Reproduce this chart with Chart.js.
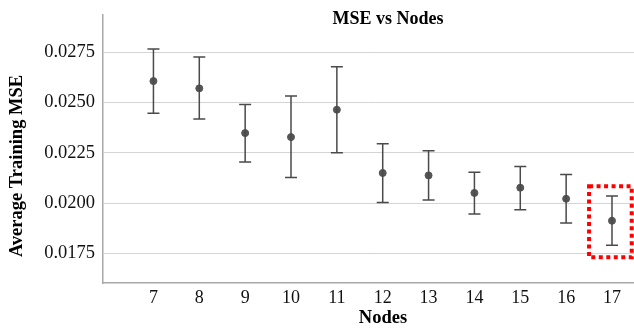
<!DOCTYPE html>
<html>
<head>
<meta charset="utf-8">
<script src="https://cdn.jsdelivr.net/npm/chart.js@4/dist/chart.umd.min.js"></script>
<style>
  html, body { margin: 0; padding: 0; background: #fff; }
  #wrap { width: 634px; height: 329px; position: relative; }
</style>
</head>
<body>
<div id="wrap"><canvas id="chartMse"></canvas></div>
<script>
// ———————————————————
//  Datos
// ———————————————————
const nodes = [7, 8, 9, 10, 11, 12, 13, 14, 15, 16, 17];
const mseMean = [0.02606, 0.0257, 0.02348, 0.02328, 0.02464, 0.0215, 0.02138, 0.02051, 0.02077, 0.02022, 0.01913];
const mseUpper = [0.02765, 0.02725, 0.0249, 0.02532, 0.02677, 0.02295, 0.0226, 0.02153, 0.02182, 0.02143, 0.02036];
const mseLower = [0.02446, 0.02418, 0.02204, 0.02128, 0.0225, 0.02004, 0.02016, 0.01946, 0.01968, 0.01902, 0.01791];
const yTicks = [0.0175, 0.0200, 0.0225, 0.0250, 0.0275];
const xTicks = [7, 8, 9, 10, 11, 12, 13, 14, 15, 16, 17];

// recuadro rojo punteado alrededor del último punto (en unidades de datos)
const highlight = { x0: 16.5, x1: 17.43, y0: 0.01732, y1: 0.02084 };

const SERIF = '"Liberation Serif", "Times New Roman", serif';

// barras de error + recuadro + títulos
const extras = {
  id: 'extras',
  afterDatasetsDraw(chart) {
    const { ctx, scales: { x, y } } = chart;
    ctx.save();
    ctx.strokeStyle = '#4a4a4a';
    ctx.lineWidth = 1.5;
    nodes.forEach((n, i) => {
      const px = x.getPixelForValue(n);
      const top = y.getPixelForValue(mseUpper[i]);
      const bot = y.getPixelForValue(mseLower[i]);
      ctx.beginPath();
      ctx.moveTo(px, top); ctx.lineTo(px, bot);
      ctx.moveTo(px - 6, top); ctx.lineTo(px + 6, top);
      ctx.moveTo(px - 6, bot); ctx.lineTo(px + 6, bot);
      ctx.stroke();
    });

    // recuadro
    ctx.strokeStyle = '#ff0000';
    ctx.lineWidth = 4;
    ctx.setLineDash([4, 3.5]);
    const l = x.getPixelForValue(highlight.x0);
    const r = x.getPixelForValue(highlight.x1);
    const t = y.getPixelForValue(highlight.y1);
    const b = y.getPixelForValue(highlight.y0);
    ctx.strokeRect(l, t, r - l, b - t);
    ctx.setLineDash([]);

    // títulos
    ctx.fillStyle = '#000';
    ctx.textAlign = 'center';
    ctx.textBaseline = 'middle';
    ctx.font = 'bold 18px ' + SERIF;
    ctx.fillText('MSE vs Nodes', 388, 19);
    ctx.font = 'bold 18.5px ' + SERIF;
    ctx.fillText('Nodes', 383, 318);
    ctx.translate(17, 166);
    ctx.rotate(-Math.PI / 2);
    ctx.fillText('Average Training MSE', 0, 0);
    ctx.restore();
  }
};

new Chart(document.getElementById('chartMse'), {
  type: 'scatter',
  data: {
    datasets: [{
      label: 'MSE',
      data: nodes.map((n, i) => ({ x: n, y: mseMean[i] })),
      backgroundColor: '#555555',
      borderColor: '#555555',
      pointRadius: 3.5,
      pointHoverRadius: 3.5
    }]
  },
  options: {
    responsive: true,
    maintainAspectRatio: false,
    animation: false,
    layout: { autoPadding: false, padding: { top: 15, right: 0, left: 0, bottom: 0 } },
    plugins: {
      legend: { display: false },
      tooltip: { enabled: false }
    },
    scales: {
      x: {
        type: 'linear',
        min: 5.9,
        max: 17.48,
        afterBuildTicks: s => { s.ticks = xTicks.map(v => ({ value: v })); },
        afterFit: s => { s.height = 46; s.paddingLeft = 0; s.paddingRight = 0; },
        grid: { display: false, drawTicks: false },
        border: { color: '#a8a8a8', width: 1.5 },
        ticks: {
          color: '#111',
          padding: 4,
          font: { family: SERIF, size: 18 },
          callback: v => String(v)
        }
      },
      y: {
        min: 0.01604,
        max: 0.02934,
        afterBuildTicks: s => { s.ticks = yTicks.map(v => ({ value: v })); },
        afterFit: s => { s.width = 103; s.paddingTop = 0; s.paddingBottom = 0; },
        grid: { color: '#d4d4d4', lineWidth: 1, drawTicks: false },
        border: { color: '#a8a8a8', width: 1.5 },
        ticks: {
          color: '#111',
          padding: 8,
          font: { family: SERIF, size: 18.5 },
          callback: v => v.toFixed(4)
        }
      }
    }
  },
  plugins: [extras]
});
</script>
</body>
</html>
